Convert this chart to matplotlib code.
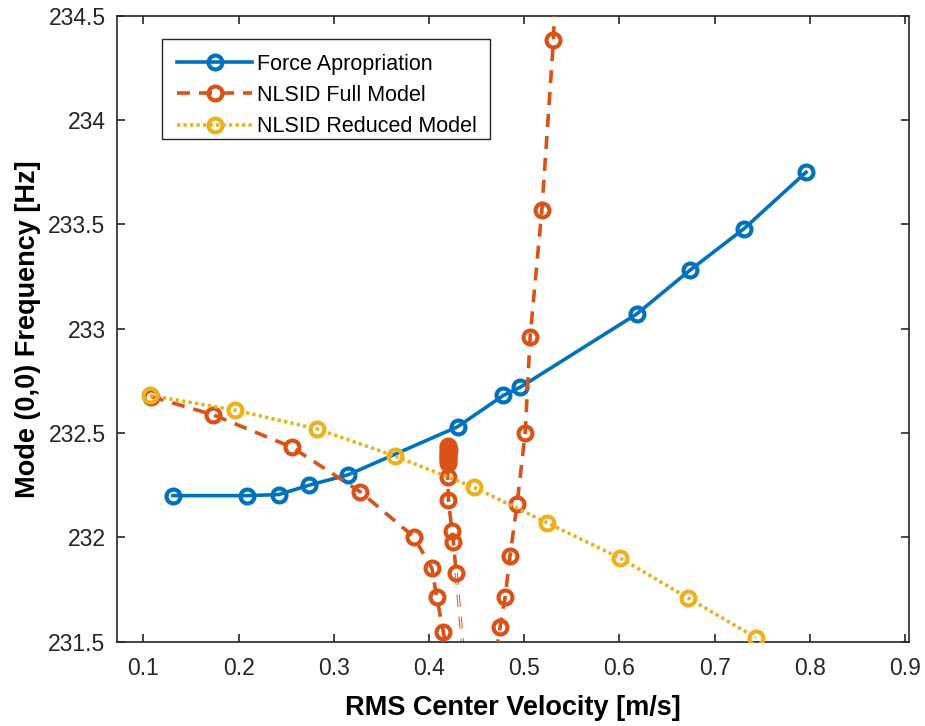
import numpy as np
import matplotlib
matplotlib.use("Agg")
import matplotlib.pyplot as plt
from matplotlib.patches import Rectangle
from matplotlib.ticker import FixedLocator, FuncFormatter

plt.rcParams['font.family'] = ['Liberation Sans', 'DejaVu Sans']

# Force appropriation backbone
fa_vel = [0.131, 0.209, 0.242, 0.274, 0.315, 0.430, 0.478, 0.496, 0.618, 0.674, 0.731, 0.796]
fa_freq = [232.20, 232.20, 232.205, 232.25, 232.30, 232.53, 232.68, 232.72, 233.07, 233.28, 233.48, 233.75]

# NLSID full model: outer branch (descending, folding, then rising)
full_vel = [0.108, 0.1735, 0.256, 0.3276, 0.3837, 0.403, 0.408, 0.415, 0.421,
            0.445, 0.469, 0.4747, 0.480, 0.485, 0.4925, 0.501, 0.5062, 0.5185, 0.5307, 0.534]
full_freq = [232.675, 232.587, 232.432, 232.219, 232.004, 231.852, 231.716, 231.548, 231.40,
             231.30, 231.40, 231.572, 231.716, 231.91, 232.16, 232.502, 232.962, 233.569, 234.384, 234.80]

# NLSID full model: inner branch
full_mid_vel = [0.4200, 0.4195, 0.4205, 0.4198, 0.4202, 0.4196, 0.4203, 0.4199, 0.4201,
                0.4195, 0.4204, 0.4240, 0.4256, 0.4285, 0.4370]
full_mid_freq = [232.44, 232.43, 232.42, 232.41, 232.40, 232.39, 232.38, 232.37, 232.355,
                 232.29, 232.18, 232.03, 231.98, 231.83, 231.40]

# NLSID reduced model
red_vel = [0.107, 0.196, 0.282, 0.364, 0.447, 0.524, 0.601, 0.672, 0.743]
red_freq = [232.68, 232.61, 232.52, 232.39, 232.24, 232.07, 231.90, 231.71, 231.52]

x_ticks = [0.1, 0.2, 0.3, 0.4, 0.5, 0.6, 0.7, 0.8, 0.9]
y_ticks = [231.5, 232, 232.5, 233, 233.5, 234, 234.5]

c_blue = '#0072BD'
c_orange = '#D95319'
c_yellow = '#EDB120'

lw = 2.6
ms = 10
mew = 3.0
dash = (0, (13 * 0.72 / lw, 9 * 0.72 / lw))
dots = (0, (3.3 * 0.72 / lw, 3.2 * 0.72 / lw))

fig = plt.figure(figsize=(9.25, 7.26), dpi=100)
ax = fig.add_axes([0.1262, 0.1161, 0.8569, 0.8623])

ax.plot(fa_vel, fa_freq, color=c_blue, lw=lw, marker='o', ms=ms, mew=mew,
        mfc='none', label='Force Apropriation', zorder=3)

ax.plot(full_vel, full_freq, color=c_orange, lw=lw, ls=dash, marker='o', ms=ms, mew=mew,
        mfc='none', label='NLSID Full Model', zorder=3)
n_vis = len(full_mid_vel) - 1
ax.plot(full_mid_vel[:n_vis], full_mid_freq[:n_vis], color=c_orange, lw=lw, ls=dash,
        marker='o', ms=ms, mew=mew, mfc='none', zorder=3)
# thin outlined tail of the inner branch
tail_x = full_mid_vel[n_vis - 1:]
tail_y = full_mid_freq[n_vis - 1:]
ax.plot(tail_x, tail_y, color=c_orange, lw=2.4, ls=(0, (12 * 0.72 / 2.4, 10 * 0.72 / 2.4)), zorder=2)
ax.plot(tail_x, tail_y, color='white', lw=1.0, ls=(0, (12 * 0.72 / 1.0, 10 * 0.72 / 1.0)), zorder=2.1)

ax.plot(red_vel, red_freq, color=c_yellow, lw=lw, ls=dots, marker='o', ms=ms, mew=mew,
        mfc='none', label='NLSID Reduced Model', zorder=3)

ax.set_xlim(0.072, 0.9045)
ax.set_ylim(231.5, 234.5)
ax.xaxis.set_major_locator(FixedLocator(x_ticks))
ax.yaxis.set_major_locator(FixedLocator(y_ticks))
ax.yaxis.set_major_formatter(FuncFormatter(lambda v, p: f'{v:g}'))
ax.xaxis.set_major_formatter(FuncFormatter(lambda v, p: f'{v:g}'))

axis_col = '#262626'
for s in ax.spines.values():
    s.set_linewidth(1.2)
    s.set_color(axis_col)
ax.tick_params(direction='in', length=6, width=1.2, colors=axis_col, labelsize=16.5,
               top=True, right=True)
ax.tick_params(axis='x', pad=11)
ax.tick_params(axis='y', pad=8)

ax.set_xlabel('RMS Center Velocity [m/s]', fontsize=19.5, fontweight='bold', labelpad=11)
ax.set_ylabel('Mode (0,0) Frequency [Hz]', fontsize=19.5, fontweight='bold', labelpad=5)

# legend entries without their own frame, boxed separately
leg = ax.legend(loc='center left', bbox_to_anchor=(0.0761, 0.8727), borderaxespad=0,
                fontsize=15.5, handlelength=3.48, handletextpad=0.23, labelspacing=0.48,
                numpoints=1, frameon=False, borderpad=0)
ax.add_patch(Rectangle((0.0575, 0.803), 0.4135, 0.159, transform=ax.transAxes,
                       facecolor='white', edgecolor=axis_col, lw=1.0, zorder=4.5))
leg.set_zorder(5)

fig.savefig('out.png', dpi=100)
